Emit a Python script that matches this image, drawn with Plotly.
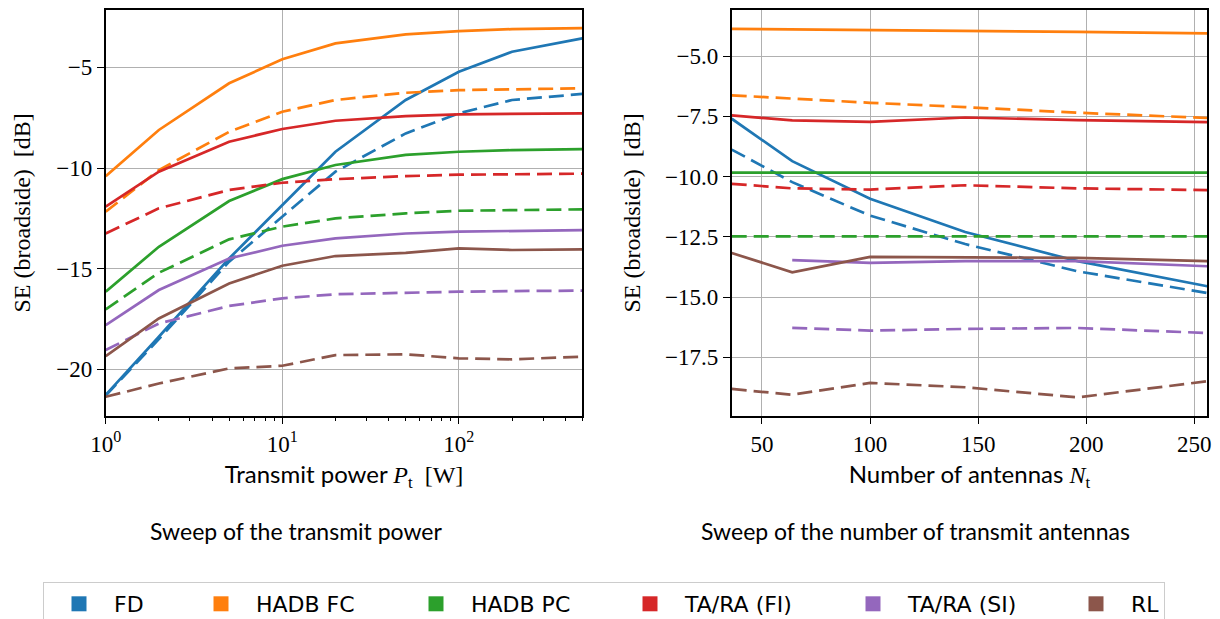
import plotly.graph_objects as go

# ---------------- data ----------------
methods = ["FD", "HADB FC", "HADB PC", "TA/RA (FI)", "TA/RA (SI)", "RL"]
colors = ["#1f77b4", "#ff7f0e", "#2ca02c", "#d62728", "#9467bd", "#8c564b"]

# Sweep of the transmit power
pt_w = [1, 2, 5, 10, 20, 50, 100, 200, 500]
pt_solid = {
    "FD":         [-21.27, -18.38, -14.49, -11.84, -9.19, -6.62, -5.22, -4.22, -3.56],
    "HADB FC":    [-10.40, -8.11, -5.79, -4.60, -3.81, -3.36, -3.20, -3.10, -3.05],
    "HADB PC":    [-16.14, -13.91, -11.64, -10.55, -9.85, -9.35, -9.19, -9.11, -9.06],
    "TA/RA (FI)": [-11.92, -10.18, -8.69, -8.06, -7.65, -7.42, -7.33, -7.30, -7.28],
    "TA/RA (SI)": [-17.80, -16.06, -14.49, -13.86, -13.49, -13.25, -13.16, -13.11, -13.08],
    "RL":         [-19.34, -17.47, -15.73, -14.85, -14.37, -14.21, -13.99, -14.07, -14.04],
}
pt_dashed = {
    "FD":         [-21.30, -18.50, -14.65, -12.42, -10.18, -8.28, -7.28, -6.62, -6.32],
    "HADB FC":    [-12.17, -10.10, -8.20, -7.20, -6.62, -6.26, -6.13, -6.08, -6.04],
    "HADB PC":    [-17.02, -15.20, -13.54, -12.91, -12.50, -12.25, -12.12, -12.09, -12.05],
    "TA/RA (FI)": [-13.25, -12.00, -11.09, -10.73, -10.55, -10.40, -10.33, -10.30, -10.28],
    "TA/RA (SI)": [-19.04, -17.72, -16.85, -16.47, -16.27, -16.18, -16.14, -16.11, -16.09],
    "RL":         [-21.36, -20.70, -19.95, -19.82, -19.29, -19.25, -19.45, -19.50, -19.37],
}

# Sweep of the number of transmit antennas
nt = [36, 64, 100, 144, 196, 256]
nt_solid = {
    "FD":         [-7.60, -9.36, -10.92, -12.30, -13.51, -14.55],
    "HADB FC":    [-3.87, -3.89, -3.92, -3.96, -4.00, -4.06],
    "HADB PC":    [-9.84, -9.84, -9.84, -9.84, -9.84, -9.84],
    "TA/RA (FI)": [-7.46, -7.67, -7.73, -7.55, -7.66, -7.74],
    "TA/RA (SI)": [None, -13.47, -13.58, -13.51, -13.51, -13.72],
    "RL":         [-13.17, -13.97, -13.33, -13.35, -13.37, -13.51],
}
nt_dashed = {
    "FD":         [-8.88, -10.23, -11.62, -12.80, -13.93, -14.83],
    "HADB FC":    [-6.63, -6.77, -6.94, -7.12, -7.35, -7.57],
    "HADB PC":    [-12.48, -12.48, -12.48, -12.48, -12.48, -12.48],
    "TA/RA (FI)": [-10.30, -10.49, -10.54, -10.36, -10.49, -10.56],
    "TA/RA (SI)": [None, -16.28, -16.39, -16.32, -16.28, -16.49],
    "RL":         [-18.81, -19.05, -18.56, -18.74, -19.16, -18.49],
}

left_yticks = [-5, -10, -15, -20]
left_yticktext = ["\u22125", "\u221210", "\u221215", "\u221220"]
left_xticks = [1, 10, 100]
left_xticktext = ["10<sup>0</sup>", "10<sup>1</sup>", "10<sup>2</sup>"]
left_minor = [2, 3, 4, 5, 6, 7, 8, 9, 20, 30, 40, 50, 60, 70, 80, 90, 200, 300, 400, 500]
right_yticks = [-5.0, -7.5, -10.0, -12.5, -15.0, -17.5]
right_yticktext = ["\u22125.0", "\u22127.5", "\u221210.0", "\u221212.5", "\u221215.0", "\u221217.5"]
right_xticks = [50, 100, 150, 200, 250]
legend_widths = [67, 140, 139, 148, 148, 28]

# ---------------- figure ----------------
W, H = 1220, 619
LW = 2.7
DASH = "15px,7px"
SERIF = "Liberation Serif"
SANS = "Lato"

fig = go.Figure()

for m, c in zip(methods, colors):
    fig.add_trace(go.Scatter(x=pt_w, y=pt_solid[m], mode="lines", line=dict(color=c, width=LW),
                             xaxis="x", yaxis="y", showlegend=False))
    fig.add_trace(go.Scatter(x=pt_w, y=pt_dashed[m], mode="lines", line=dict(color=c, width=LW, dash=DASH),
                             xaxis="x", yaxis="y", showlegend=False))
    fig.add_trace(go.Scatter(x=nt, y=nt_solid[m], mode="lines", line=dict(color=c, width=LW),
                             xaxis="x2", yaxis="y2", showlegend=False))
    fig.add_trace(go.Scatter(x=nt, y=nt_dashed[m], mode="lines", line=dict(color=c, width=LW, dash=DASH),
                             xaxis="x2", yaxis="y2", showlegend=False))

for m, c, lw in zip(methods, colors, legend_widths):
    fig.add_trace(go.Scatter(x=[None], y=[None], mode="markers", name=m,
                             marker=dict(symbol="square", size=15, color=c),
                             xaxis="x", yaxis="y", showlegend=True, legendwidth=lw))

axis_common = dict(showline=True, linecolor="black", linewidth=1.5, mirror=True,
                   showgrid=True, gridcolor="#b0b0b0", gridwidth=1.4,
                   ticks="outside", ticklen=7, tickwidth=1.4, tickcolor="black",
                   zeroline=False, tickfont=dict(family=SERIF, size=23, color="black"))

y_dom = [1 - 415.7 / H, 1 - 10 / H]
xtitle_font = dict(family=SANS, size=24, color="black")
ytitle_font = dict(family=SERIF, size=24, color="black")

fig.update_layout(
    width=W, height=H,
    margin=dict(l=0, r=0, t=0, b=0, autoexpand=False),
    paper_bgcolor="white", plot_bgcolor="white",
    xaxis=dict(axis_common, type="log", domain=[105.7 / W, 582.3 / W], anchor="y",
               range=[0, 2.69897], tickvals=left_xticks, ticktext=left_xticktext,
               minor=dict(tickvals=left_minor, ticks="outside", ticklen=4, tickwidth=1,
                          tickcolor="black", showgrid=False),
               title=dict(text="Transmit power <span style='font-family:Liberation Serif'><i>P</i><sub>t</sub>  [W]</span>",
                          font=xtitle_font, standoff=10)),
    yaxis=dict(axis_common, domain=y_dom, anchor="x", range=[-22.30, -2.15],
               tickvals=left_yticks, ticktext=left_yticktext,
               title=dict(text="SE (broadside)  [dB]", font=ytitle_font, standoff=19)),
    xaxis2=dict(axis_common, domain=[731.7 / W, 1207.3 / W], anchor="y2",
                range=[36, 256], tickvals=right_xticks,
                title=dict(text="Number of antennas <span style='font-family:Liberation Serif'><i>N</i><sub>t</sub></span>",
                           font=xtitle_font, standoff=10)),
    yaxis2=dict(axis_common, domain=y_dom, anchor="x2", range=[-19.92, -3.09],
                tickvals=right_yticks, ticktext=right_yticktext,
                title=dict(text="SE (broadside)  [dB]", font=ytitle_font, standoff=18)),
    legend=dict(orientation="h", x=43 / W, xanchor="left", y=1 - 582 / H, yanchor="top",
                bordercolor="#cccccc", borderwidth=1, bgcolor="white",
                font=dict(family="DejaVu Sans", size=22, color="black"),
                itemwidth=60, tracegroupgap=0),
    annotations=[
        dict(text="Sweep of the transmit power", x=296 / W, y=1 - 531 / H, xref="paper", yref="paper",
             showarrow=False, xanchor="center", yanchor="middle",
             font=dict(family=SANS, size=23, color="black")),
        dict(text="Sweep of the number of transmit antennas", x=915 / W, y=1 - 531 / H, xref="paper",
             yref="paper", showarrow=False, xanchor="center", yanchor="middle",
             font=dict(family=SANS, size=23, color="black")),
    ],
)

fig.write_html("out.html", config={"displayModeBar": False},
               post_script="document.body.style.margin='0px';document.body.style.overflow='hidden';")
